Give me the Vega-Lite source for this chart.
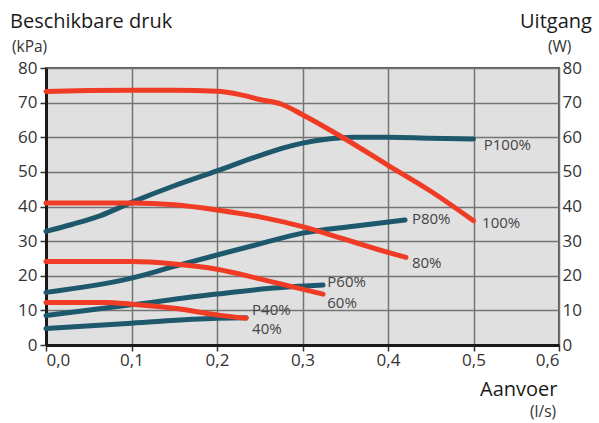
{
  "$schema": "https://vega.github.io/schema/vega-lite/v6.json",
  "width": 513,
  "height": 277,
  "autosize": {"type": "none"},
  "padding": {"left": 46, "top": 68, "right": 40, "bottom": 78},
  "background": "white",
  "config": {
    "font": "Open Sans",
    "view": {"fill": "#e0e0e0", "stroke": "#555555", "strokeWidth": 2},
    "axis": {"labelFont": "Open Sans", "labelFontSize": 17, "labelColor": "#333333", "gridColor": "#747474", "gridWidth": 1.5, "gridOpacity": 1}
  },
  "datasets": {
    "teal": [
      {"s": "P100%", "q": 0, "p": 32.8}, {"s": "P100%", "q": 0.03, "p": 34.8}, {"s": "P100%", "q": 0.063, "p": 37.3}, {"s": "P100%", "q": 0.1, "p": 41.2}, {"s": "P100%", "q": 0.15, "p": 46.0}, {"s": "P100%", "q": 0.2, "p": 50.3}, {"s": "P100%", "q": 0.25, "p": 54.7}, {"s": "P100%", "q": 0.28, "p": 57.1}, {"s": "P100%", "q": 0.3, "p": 58.3}, {"s": "P100%", "q": 0.33, "p": 59.5}, {"s": "P100%", "q": 0.36, "p": 60.0}, {"s": "P100%", "q": 0.4, "p": 60.0}, {"s": "P100%", "q": 0.45, "p": 59.7}, {"s": "P100%", "q": 0.5, "p": 59.5},
      {"s": "P80%", "q": 0, "p": 15.2}, {"s": "P80%", "q": 0.1, "p": 19.3}, {"s": "P80%", "q": 0.15, "p": 22.7}, {"s": "P80%", "q": 0.2, "p": 26.0}, {"s": "P80%", "q": 0.25, "p": 29.2}, {"s": "P80%", "q": 0.3, "p": 32.3}, {"s": "P80%", "q": 0.36, "p": 34.3}, {"s": "P80%", "q": 0.42, "p": 36.1},
      {"s": "P60%", "q": 0, "p": 8.5}, {"s": "P60%", "q": 0.1, "p": 11.6}, {"s": "P60%", "q": 0.2, "p": 14.7}, {"s": "P60%", "q": 0.26, "p": 16.3}, {"s": "P60%", "q": 0.324, "p": 17.3},
      {"s": "P40%", "q": 0, "p": 4.8}, {"s": "P40%", "q": 0.1, "p": 6.3}, {"s": "P40%", "q": 0.2, "p": 7.7}, {"s": "P40%", "q": 0.234, "p": 7.9}
    ],
    "red": [
      {"s": "100%", "q": 0, "p": 73.2}, {"s": "100%", "q": 0.05, "p": 73.5}, {"s": "100%", "q": 0.1, "p": 73.6}, {"s": "100%", "q": 0.15, "p": 73.6}, {"s": "100%", "q": 0.2, "p": 73.3}, {"s": "100%", "q": 0.227, "p": 72.3}, {"s": "100%", "q": 0.25, "p": 70.9}, {"s": "100%", "q": 0.275, "p": 69.6}, {"s": "100%", "q": 0.3, "p": 66.5}, {"s": "100%", "q": 0.35, "p": 59.5}, {"s": "100%", "q": 0.4, "p": 51.9}, {"s": "100%", "q": 0.45, "p": 44.4}, {"s": "100%", "q": 0.5, "p": 35.9},
      {"s": "80%", "q": 0, "p": 41.0}, {"s": "80%", "q": 0.1, "p": 41.0}, {"s": "80%", "q": 0.15, "p": 40.5}, {"s": "80%", "q": 0.2, "p": 39.0}, {"s": "80%", "q": 0.25, "p": 37.0}, {"s": "80%", "q": 0.3, "p": 34.2}, {"s": "80%", "q": 0.35, "p": 30.5}, {"s": "80%", "q": 0.383, "p": 28.0}, {"s": "80%", "q": 0.421, "p": 25.3},
      {"s": "60%", "q": 0, "p": 24.1}, {"s": "60%", "q": 0.1, "p": 24.1}, {"s": "60%", "q": 0.15, "p": 23.4}, {"s": "60%", "q": 0.2, "p": 21.9}, {"s": "60%", "q": 0.25, "p": 19.1}, {"s": "60%", "q": 0.29, "p": 16.7}, {"s": "60%", "q": 0.324, "p": 14.7},
      {"s": "40%", "q": 0, "p": 12.3}, {"s": "40%", "q": 0.07, "p": 12.3}, {"s": "40%", "q": 0.1, "p": 11.8}, {"s": "40%", "q": 0.15, "p": 10.6}, {"s": "40%", "q": 0.2, "p": 8.7}, {"s": "40%", "q": 0.234, "p": 7.7}
    ],
    "curvelabels": [
      {"label": "P100%", "q": 0.512, "p": 57.8}, {"label": "100%", "q": 0.51, "p": 35.2},
      {"label": "P80%", "q": 0.428, "p": 36.4}, {"label": "80%", "q": 0.428, "p": 23.7},
      {"label": "P60%", "q": 0.329, "p": 18.1}, {"label": "60%", "q": 0.329, "p": 12.1},
      {"label": "P40%", "q": 0.241, "p": 10.0}, {"label": "40%", "q": 0.241, "p": 4.7}
    ],
    "titles": [
      {"label": "Beschikbare druk", "q": -0.0421, "p": 91.55},
      {"label": "Uitgang", "q": 0.5544, "p": 91.55},
      {"label": "Aanvoer", "q": 0.5076, "p": -14.6}
    ],
    "units": [
      {"label": "(kPa)", "q": -0.0398, "p": 84.5},
      {"label": "(W)", "q": 0.5871, "p": 84.5},
      {"label": "(l/s)", "q": 0.5661, "p": -20.9}
    ]
  },
  "layer": [
    {
      "data": {"name": "teal"},
      "mark": {"type": "line", "interpolate": "monotone", "stroke": "#1e586c", "strokeWidth": 5, "strokeCap": "round"},
      "encoding": {
        "x": {"field": "q", "type": "quantitative", "title": null, "scale": {"domain": [0, 0.6], "nice": false},
          "axis": {"values": [0, 0.1, 0.2, 0.3, 0.4, 0.5, 0.6], "labelExpr": "replace(format(datum.value, '.1f'), '.', ',')", "grid": true, "domainColor": "#1a1a1a", "domainWidth": 3, "tickColor": "#333333", "tickWidth": 1.5, "tickSize": 6, "labelPadding": 1, "title": null}},
        "y": {"field": "p", "type": "quantitative", "title": null, "scale": {"domain": [0, 80], "nice": false},
          "axis": {"orient": "left", "values": [0, 10, 20, 30, 40, 50, 60, 70, 80], "grid": true, "domainColor": "#1a1a1a", "domainWidth": 3, "tickColor": "#333333", "tickWidth": 1.5, "tickSize": 6, "labelPadding": 3, "title": null}},
        "detail": {"field": "s"}
      }
    },
    {
      "data": {"name": "red"},
      "mark": {"type": "line", "interpolate": "monotone", "stroke": "#f03c24", "strokeWidth": 5, "strokeCap": "round"},
      "encoding": {
        "x": {"field": "q", "type": "quantitative", "title": null, "scale": {"domain": [0, 0.6], "nice": false}},
        "y": {"field": "p", "type": "quantitative", "title": null, "scale": {"domain": [0, 80], "nice": false},
          "axis": {"orient": "right", "values": [0, 10, 20, 30, 40, 50, 60, 70, 80], "grid": false, "domain": false, "ticks": false, "labelPadding": 3, "title": null}},
        "detail": {"field": "s"}
      }
    },
    {
      "data": {"name": "curvelabels"},
      "mark": {"type": "text", "align": "left", "baseline": "middle", "fontSize": 15, "color": "#444444", "font": "Open Sans"},
      "encoding": {
        "x": {"field": "q", "type": "quantitative", "title": null, "scale": {"domain": [0, 0.6], "nice": false}},
        "y": {"field": "p", "type": "quantitative", "scale": {"domain": [0, 80], "nice": false}, "axis": null},
        "text": {"field": "label"}
      }
    },
    {
      "data": {"name": "titles"},
      "mark": {"type": "text", "align": "left", "baseline": "alphabetic", "fontSize": 20, "color": "#1a1a1a", "font": "Open Sans"},
      "encoding": {
        "x": {"field": "q", "type": "quantitative", "title": null, "scale": {"domain": [0, 0.6], "nice": false}},
        "y": {"field": "p", "type": "quantitative", "scale": {"domain": [0, 80], "nice": false}, "axis": null},
        "text": {"field": "label"}
      }
    },
    {
      "data": {"name": "units"},
      "mark": {"type": "text", "align": "left", "baseline": "alphabetic", "fontSize": 15.5, "color": "#333333", "font": "Open Sans"},
      "encoding": {
        "x": {"field": "q", "type": "quantitative", "title": null, "scale": {"domain": [0, 0.6], "nice": false}},
        "y": {"field": "p", "type": "quantitative", "scale": {"domain": [0, 80], "nice": false}, "axis": null},
        "text": {"field": "label"}
      }
    }
  ],
  "resolve": {"scale": {"y": "independent"}}
}
